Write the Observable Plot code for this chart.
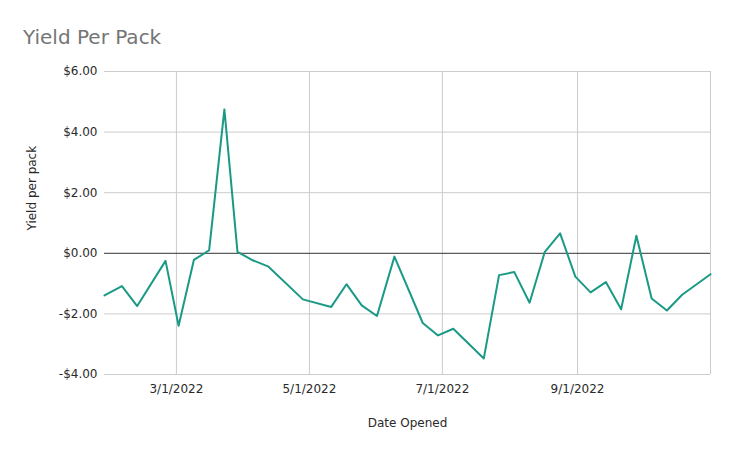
<!DOCTYPE html>
<html>
<head>
<meta charset="utf-8">
<script src="https://cdn.jsdelivr.net/npm/d3@7"></script>
<script src="https://cdn.jsdelivr.net/npm/@observablehq/plot@0.6"></script>
<style>
  html, body { margin: 0; padding: 0; background: #fff; }
  #title { font-family: "DejaVu Sans", sans-serif; font-size: 20px; line-height: 20px; color: #757575;
           height: 28px; padding: 27px 0 0 23px; }
</style>
</head>
<body>
<div id="title">Yield Per Pack</div>
<div id="chart"></div>
<script>
const dates = ["2022-01-27","2022-02-04","2022-02-11","2022-02-24","2022-03-02","2022-03-09","2022-03-16","2022-03-23","2022-03-29","2022-04-05","2022-04-12","2022-04-28","2022-05-11","2022-05-18","2022-05-25","2022-06-01","2022-06-09","2022-06-22","2022-06-29","2022-07-06","2022-07-20","2022-07-27","2022-08-03","2022-08-10","2022-08-17","2022-08-24","2022-08-31","2022-09-07","2022-09-14","2022-09-21","2022-09-28","2022-10-05","2022-10-12","2022-10-19","2022-11-01"];
const values = [-1.39,-1.08,-1.74,-0.25,-2.39,-0.22,0.10,4.75,0.05,-0.23,-0.43,-1.52,-1.77,-1.02,-1.72,-2.07,-0.11,-2.30,-2.71,-2.49,-3.47,-0.72,-0.62,-1.63,0.05,0.66,-0.77,-1.29,-0.95,-1.85,0.58,-1.49,-1.89,-1.37,-0.69];
const xTicks = ["2022-03-01","2022-05-01","2022-07-01","2022-09-01"];
const xGrid = ["2022-03-01","2022-05-01","2022-07-01","2022-09-01","2022-11-01"];
const yTicks = [-4,-2,0,2,4,6];
const yGrid = [-4,-2,2,4,6];
const xDomain = ["2022-01-27","2022-11-01"];

const data = dates.map((d, i) => ({date: new Date(d + "T00:00:00Z"), value: values[i]}));
const toDate = s => new Date(s + "T00:00:00Z");
const fmtDate = d => `${d.getUTCMonth() + 1}/${d.getUTCDate()}/${d.getUTCFullYear()}`;
const fmtMoney = v => (v < 0 ? "-$" : "$") + Math.abs(v).toFixed(2);

const chart = Plot.plot({
  width: 734,
  height: 398,
  marginTop: 16,
  marginBottom: 79,
  marginLeft: 104,
  marginRight: 24,
  style: {fontFamily: "DejaVu Sans, sans-serif", fontSize: "12px", color: "#222", background: "#fff"},
  x: {type: "utc", domain: xDomain.map(toDate)},
  y: {domain: [-4, 6]},
  marks: [
    Plot.ruleX(xGrid.map(toDate), {stroke: "#cccccc", strokeWidth: 1}),
    Plot.ruleY(yGrid, {stroke: "#cccccc", strokeWidth: 1}),
    Plot.ruleY([0], {stroke: "#333333", strokeWidth: 1}),
    Plot.axisX(xTicks.map(toDate), {tickSize: 0, tickPadding: 10, tickFormat: fmtDate, label: null, fill: "#2a2a2a"}),
    Plot.axisY(yTicks, {tickSize: 0, tickPadding: 7, tickFormat: fmtMoney, label: null, fill: "#2a2a2a"}),
    Plot.line(data, {x: "date", y: "value", stroke: "#1a9a85", strokeWidth: 2, strokeLinejoin: "round"}),
    Plot.text(["Date Opened"], {frameAnchor: "bottom", dy: 49, lineAnchor: "middle", fill: "#2a2a2a", fontSize: 12}),
    Plot.text(["Yield per pack"], {frameAnchor: "left", dx: -72, dy: 7.5, rotate: -90, lineAnchor: "middle", fill: "#2a2a2a", fontSize: 12})
  ]
});
document.getElementById("chart").appendChild(chart);
</script>
</body>
</html>
